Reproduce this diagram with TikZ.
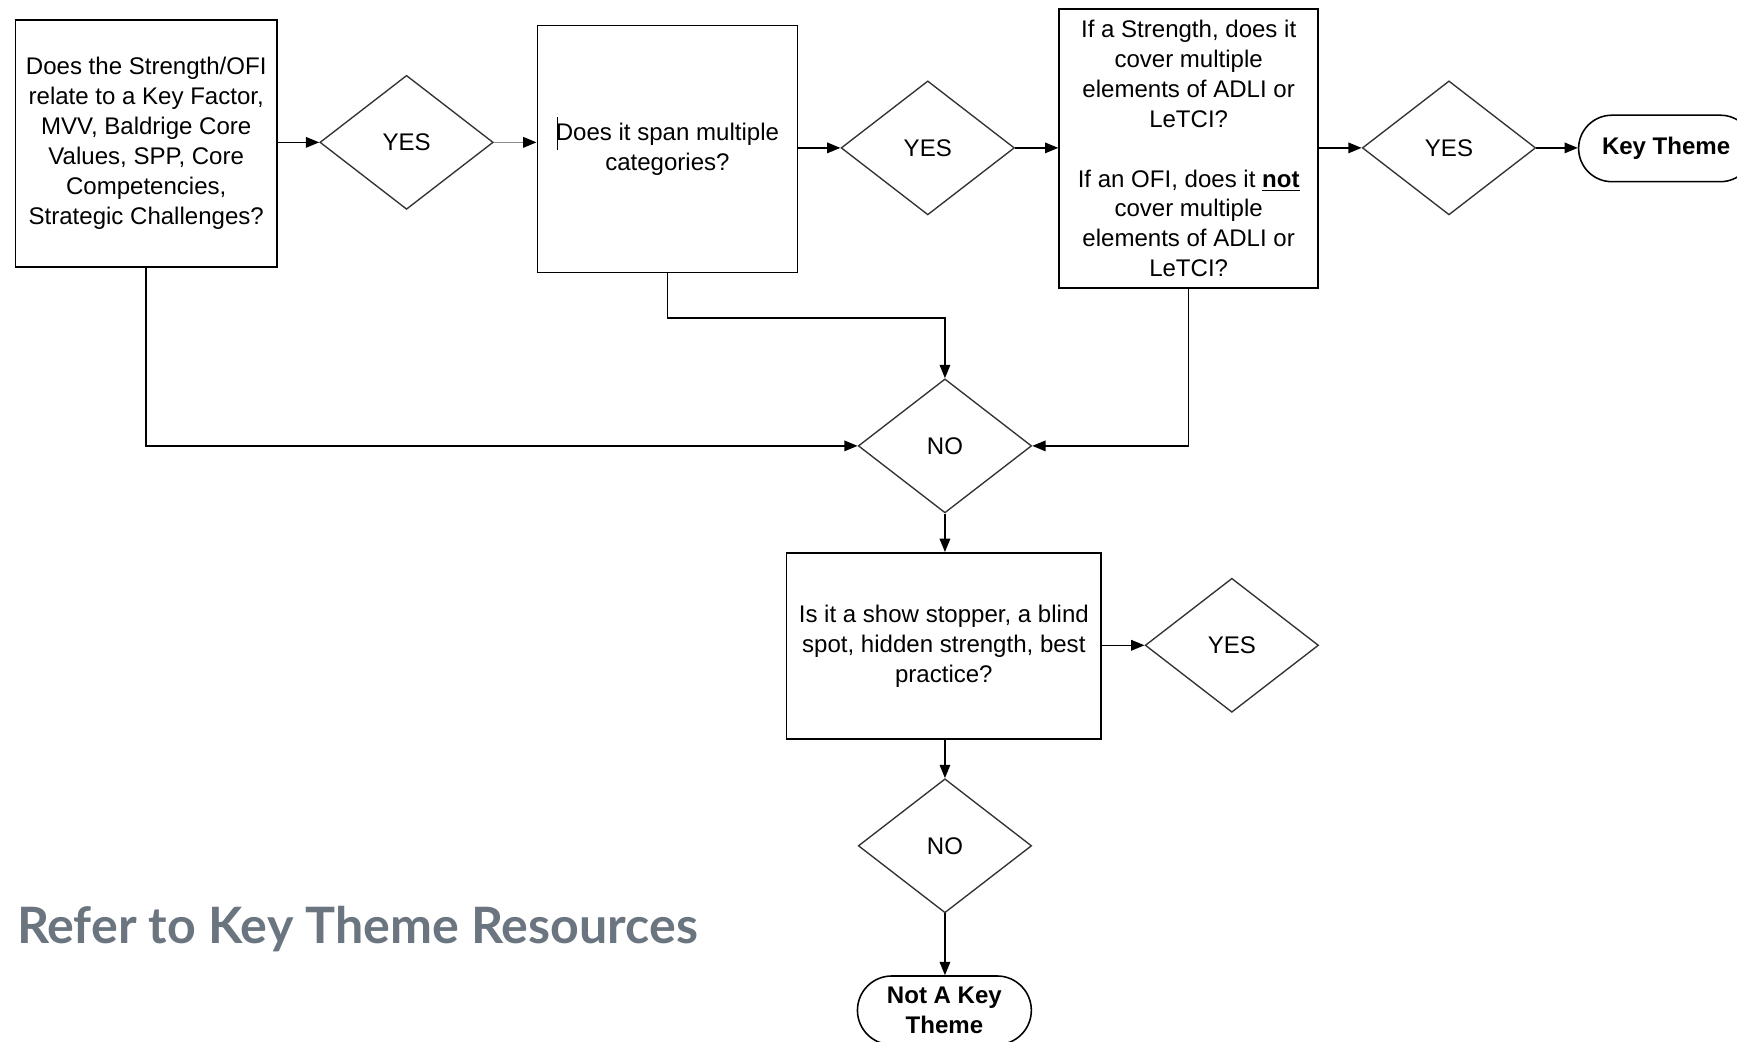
\documentclass[tikz,border=0pt]{standalone}
\usepackage{fontspec}
\setmainfont{Liberation Sans}
\newfontfamily\headfont{Lato}
\usetikzlibrary{shapes.geometric,shapes.misc,arrows.meta}
\definecolor{headgray}{RGB}{107,117,128}
\begin{document}
\begin{tikzpicture}[x=0.02cm,y=-0.02cm,
  txt/.style={font=\fontsize{12.35}{15.4}\selectfont, align=center},
  qbox/.style={txt, draw, line width=0.8pt, rectangle, inner sep=0pt},
  dec/.style={txt, draw=black!80, line width=0.7pt, diamond, inner sep=0pt,
              minimum width=3.13cm, minimum height=2.42cm},
  term/.style={txt, font=\fontsize{12.35}{15.4}\selectfont\bfseries, draw,
               line width=0.8pt, rounded rectangle, inner sep=0pt,
               minimum width=3.16cm, minimum height=1.2cm},
  arr/.style={line width=0.8pt, -{Triangle[length=0.24cm,width=0.19cm]}},
  link/.style={line width=0.8pt}]
\useasboundingbox (0,0) rectangle (1568,940);
\clip (0,0) rectangle (1568,940);

% question boxes
\node[qbox, minimum width=4.72cm, minimum height=4.46cm] (b1) at (132,129.5)
  {Does the Strength/OFI\\relate to a Key Factor,\\MVV, Baldrige Core\\Values, SPP, Core\\Competencies,\\Strategic Challenges?};
\node[qbox, minimum width=4.70cm, minimum height=4.46cm] (b2) at (602.5,134.5)
  {Does it span multiple\\categories?};
\node[qbox, minimum width=4.68cm, minimum height=5.04cm] (b3) at (1073,134)
  {If a Strength, does it\\cover multiple\\elements of ADLI or\\LeTCI?\\[15.4pt]If an OFI, does it \underline{\textbf{not}}\\cover multiple\\elements of ADLI or\\LeTCI?};
\node[qbox, minimum width=5.68cm, minimum height=3.36cm] (b4) at (852,583)
  {Is it a show stopper, a blind\\spot, hidden strength, best\\practice?};

% decisions
\node[dec] (d1) at (367,128.5) {YES};
\node[dec] (d2) at (837.5,133.5) {YES};
\node[dec] (d3) at (1308,133.5) {YES};
\node[dec] (no) at (853,402.5) {NO};
\node[dec] (d4) at (1112,582.5) {YES};
\node[dec] (no2) at (853,763.5) {NO};

% end points
\node[term] (kt) at (1504,134) {Key Theme};
\node[term, minimum width=3.14cm, minimum height=1.24cm] (nkt) at (852.5,912) {Not A Key\\Theme};

% caret before the second question
\draw[line width=0.5pt] (503,106) -- (503,135);

% yes path
\draw[arr] (b1.east |- d1) -- (d1.west);
\draw[line width=0.8pt, black!45, -{Triangle[length=0.24cm,width=0.19cm,color=black]}] (d1.east) -- (d1.east -| b2.west);
\draw[arr] (b2.east |- d2) -- (d2.west);
\draw[arr] (d2.east) -- (d2.east -| b3.west);
\draw[arr] (b3.east |- d3) -- (d3.west);
\draw[arr] (d3.east) -- (d3.east -| kt.west);

% no paths
\coordinate (j2) at (602.5,287);
\draw[arr] (b1.south) |- (no.west);
\draw[arr] (b2.south) -- (j2) -| (no.north);
\draw[arr] (b3.south) |- (no.east);
\draw[arr] (no.south) -- (no.south |- b4.north);

% second question
\draw[arr] (b4.east |- d4) -- (d4.west);
\draw[arr] (b4.south -| no2) -- (no2.north);
\draw[arr] (no2.south) -- (no2.south |- nkt.north);

% resource note
\node[anchor=base west, inner sep=0pt, text=headgray] (note) at (15,852)
  {\resizebox{12.3cm}{!}{\headfont\bfseries Refer to Key Theme Resources}};
\end{tikzpicture}
\end{document}
